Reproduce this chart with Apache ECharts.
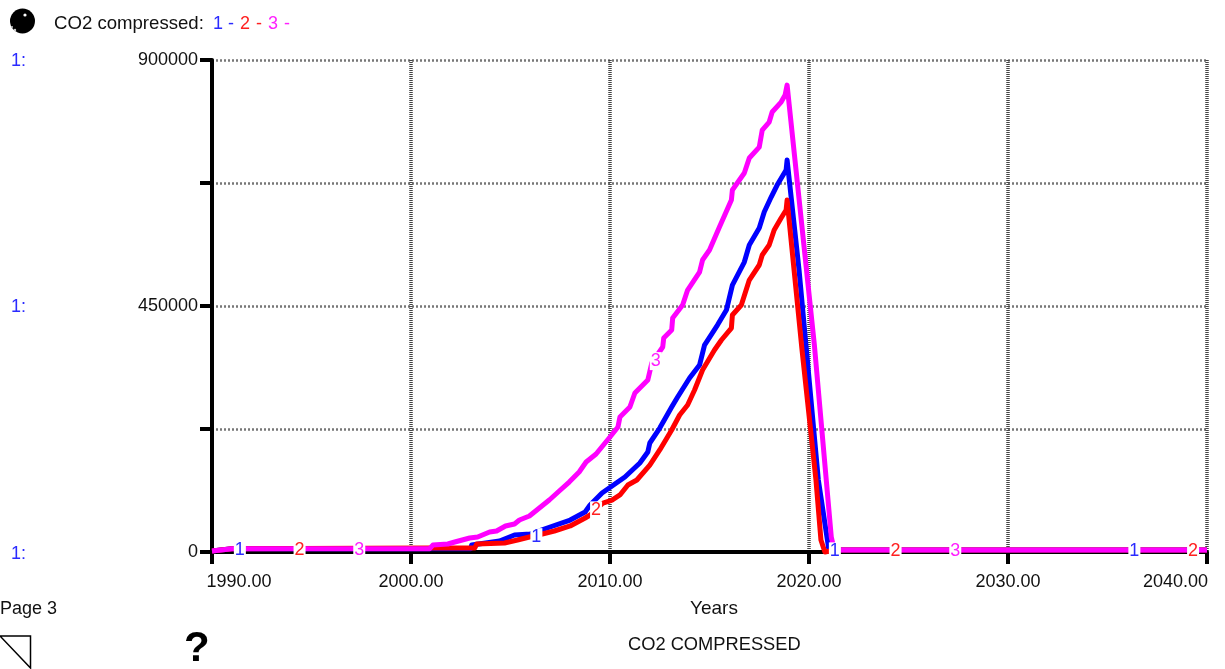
<!DOCTYPE html>
<html>
<head>
<meta charset="utf-8">
<style>html,body{margin:0;padding:0;background:#fff}#c{width:1225px;height:669px}</style>
<script src="https://cdn.jsdelivr.net/npm/echarts@6/dist/echarts.min.js"></script>
</head>
<body>
<div id="c"></div>
<script>
const run1 = [[1990,2000],[1991,6000],[2003,6000],[2003.05,12800],[2004.45,20100],[2005.2,31100],[2006,33000],[2006.7,42100],[2008,58500],[2008.75,73200],[2009,86000],[2009.6,107900],[2010.75,137200],[2011.5,162800],[2011.9,182900],[2012,199400],[2012.5,226800],[2013.1,265200],[2013.4,283500],[2014,318300],[2014.5,342000],[2014.75,378600],[2015.4,415200],[2015.85,442600],[2016.15,488300],[2016.75,530400],[2017,561500],[2017.5,592600],[2017.75,621900],[2018.1,649300],[2018.4,671200],[2018.85,698700],[2018.9,717000],[2019.5,515800],[2020.47,131700],[2021,3700],[2040,3700]];
const run2 = [[1990,2000],[1991,6000],[2001,7300],[2003.2,7300],[2003.3,14600],[2004.7,16500],[2005.35,21900],[2005.95,27400],[2006.6,32900],[2007.2,38400],[2008,47600],[2008.75,62200],[2009,67700],[2009.65,89600],[2010.1,95100],[2010.5,104300],[2010.9,122500],[2011.35,131700],[2012,159100],[2012.5,186600],[2013.1,223100],[2013.5,250600],[2013.9,268900],[2014.25,296300],[2014.65,332900],[2015.25,369500],[2015.6,387800],[2016.1,409700],[2016.15,433500],[2016.6,451800],[2017,497500],[2017.5,525000],[2017.65,543200],[2018,561500],[2018.25,589000],[2018.6,611000],[2018.85,625600],[2018.9,643900],[2019.65,369500],[2020.35,131700],[2020.6,21900],[2020.8,0],[2021.3,3700],[2040,3700]];
const run3 = [[1990,2000],[1991,6000],[2000.94,6000],[2001.1,12800],[2001.85,14600],[2002.2,18300],[2002.95,25600],[2003.35,27400],[2003.95,36600],[2004.3,38400],[2004.75,47600],[2005.2,51200],[2005.45,58500],[2005.95,65800],[2006.45,80500],[2006.95,95100],[2007.45,111600],[2007.95,128000],[2008.45,146300],[2008.8,164600],[2009.3,179200],[2010,210300],[2010.4,228600],[2010.5,246900],[2011,265200],[2011.25,290800],[2011.9,314600],[2012.1,345700],[2012.65,375000],[2012.7,391400],[2013.1,406000],[2013.15,428000],[2013.65,451800],[2013.9,479200],[2014.5,512100],[2014.65,534100],[2015,552400],[2015.5,594500],[2016.1,643900],[2016.15,662100],[2016.75,693200],[2017,720700],[2017.5,740700],[2017.65,771800],[2018,786500],[2018.15,804800],[2018.6,823000],[2018.8,835900],[2018.9,854100],[2020.27,378600],[2021.12,27400],[2021.27,3700],[2040,3700]];
const runLabels = [['1',1991.4,5000],['2',1994.4,5000],['3',1997.4,5000],['1',2006.3,29000],['2',2009.3,78000],['3',2012.3,351000],['1',2021.3,3000],['2',2024.35,3000],['3',2027.35,3000],['1',2036.35,3000],['2',2039.3,3000]];
const labelColors = {'1':'#2a2aff','2':'#ff2020','3':'#ff20ff'};
const lineColors = ['#0000ff','#ff0000','#ff00ff'];
const yTicks = {0:'0',450000:'450000',900000:'900000'};
const FONT = '"Liberation Sans", Arial, sans-serif';
const FS = 18;

const chart = echarts.init(document.getElementById('c'), null, {renderer:'canvas'});
const mkLine = (d,i)=>({type:'line',data:d,showSymbol:false,symbol:'none',clip:false,z:2+i,
  lineStyle:{color:lineColors[i],width:5,join:'round',cap:'butt'},emphasis:{disabled:true},silent:true});
const txt = (x,y,t,o)=>({type:'text',x,y,z:20,style:Object.assign({text:t,font:FS+'px '+FONT,fill:'#111',textVerticalAlign:'middle'},o||{})});

chart.setOption({
  animation:false,
  backgroundColor:'#fff',
  grid:{left:212,right:18,top:60,bottom:117},
  xAxis:{type:'value',min:1990,max:2040,interval:10,
    axisLine:{onZero:false,lineStyle:{color:'#000',width:4}},
    axisTick:{length:12,lineStyle:{color:'#000',width:4}},
    axisLabel:{margin:21,color:'#111',fontFamily:FONT,fontSize:FS,
      formatter:v=>v===1990?'{a|1990.00}':v===2040?'{b|2040.00}':v.toFixed(2),
      rich:{a:{padding:[0,0,0,54],fontFamily:FONT,fontSize:FS,color:'#111'},b:{padding:[0,63,0,0],fontFamily:FONT,fontSize:FS,color:'#111'}}},
    splitLine:{show:true,lineStyle:{color:'#444',width:3.5,type:[1,1]}}},
  yAxis:{type:'value',min:0,max:900000,interval:225000,
    axisLine:{lineStyle:{color:'#000',width:4}},
    axisTick:{length:12,lineStyle:{color:'#000',width:4}},
    axisLabel:{margin:14,padding:[2,0,0,0],color:'#111',fontFamily:FONT,fontSize:FS,formatter:v=>yTicks[v]||''},
    splitLine:{show:true,lineStyle:{color:'#777',width:2.5,type:[2,2]}}},
  series:[mkLine(run1,0),mkLine(run2,1),mkLine(run3,2),
    {type:'scatter',z:10,silent:true,symbol:'circle',symbolSize:1,clip:false,itemStyle:{color:'rgba(0,0,0,0)',opacity:1},
     data:runLabels.map(r=>({value:[r[1],r[2]],label:{show:true,position:'inside',offset:[0,1],opacity:1,formatter:r[0],color:labelColors[r[0]],
       backgroundColor:'#fff',padding:[0,1],fontFamily:FONT,fontSize:FS}}))}],
  graphic:[
    {type:'circle',z:20,shape:{cx:22.5,cy:21,r:12.5},style:{fill:'#000'}},
    {type:'circle',z:21,shape:{cx:25,cy:15,r:1.6},style:{fill:'#fff'}},
    {type:'circle',z:21,shape:{cx:12,cy:27,r:1},style:{fill:'#ccc'}},
    {type:'circle',z:21,shape:{cx:15,cy:30,r:1.2},style:{fill:'#ccc'}},
    txt(54,24,'CO2 compressed:',{font:'18.6px '+FONT}),
    txt(213,24,'1',{fill:'#2a2aff'}),txt(228,24,'-',{fill:'#2a2aff'}),
    txt(240,24,'2',{fill:'#ff2020'}),txt(256,24,'-',{fill:'#ff2020'}),
    txt(268,24,'3',{fill:'#ff20ff'}),txt(284,24,'-',{fill:'#ff20ff'}),
    txt(11,61,'1:',{fill:'#2a2aff'}),txt(11,307,'1:',{fill:'#2a2aff'}),txt(11,554,'1:',{fill:'#2a2aff'}),
    txt(0,609,'Page 3'),
    txt(690,609,'Years',{font:'19px '+FONT}),
    txt(628,645,'CO2 COMPRESSED',{font:'18.3px '+FONT}),
    {type:'polyline',z:20,shape:{points:[[0,636],[30.5,636],[30.5,668],[0,636]]},style:{fill:'none',stroke:'#000',lineWidth:1.5}},
    txt(184,649,'?',{font:'bold 42px '+FONT,fill:'#000'})
  ]
});
</script>
</body>
</html>
